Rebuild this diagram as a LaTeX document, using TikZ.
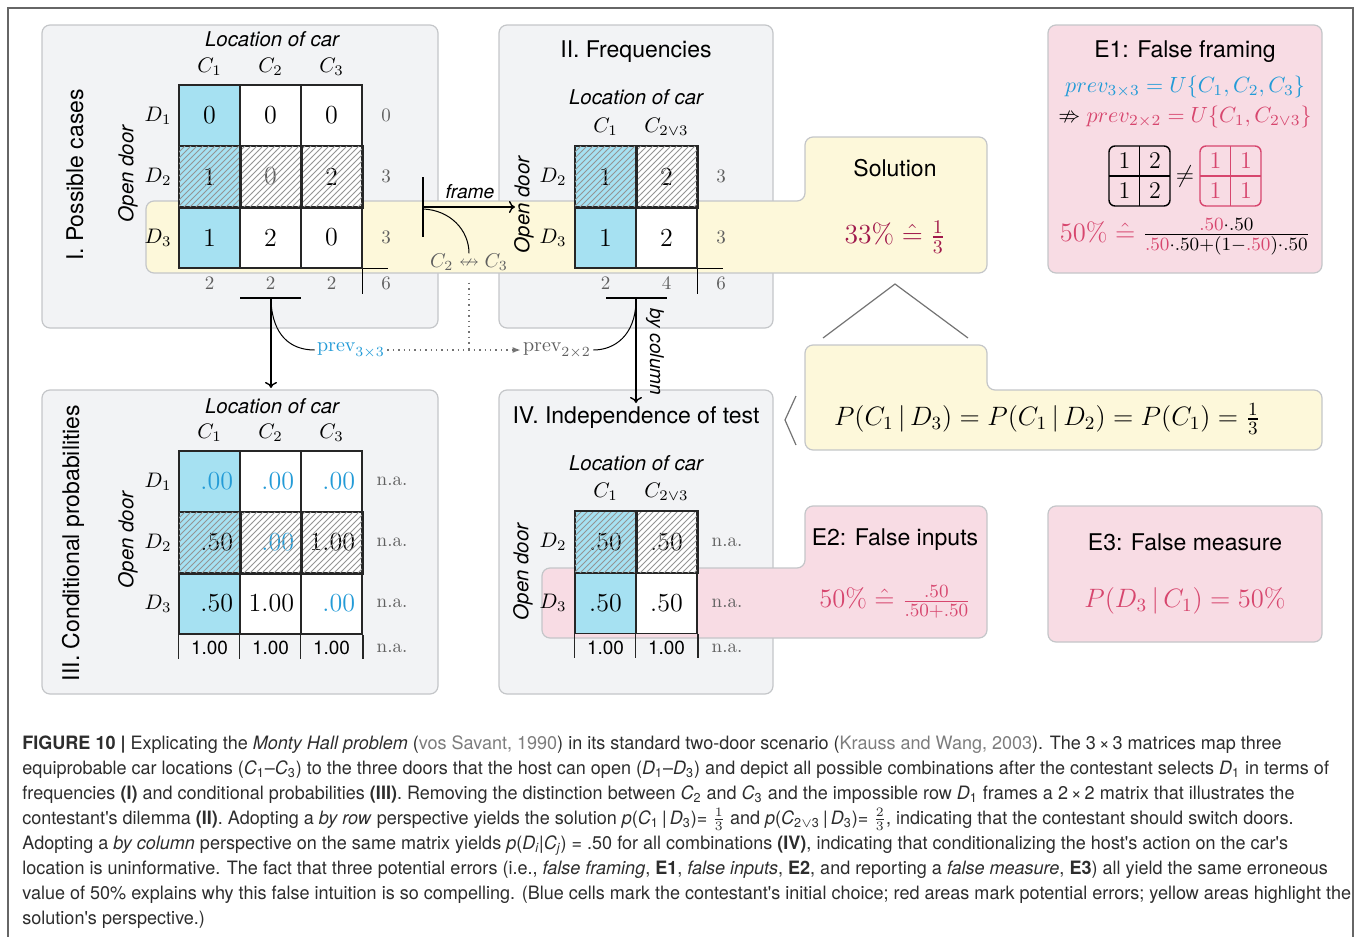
\RequirePackage{fix-cm}
\documentclass[tikz,border=0pt]{standalone}
\usepackage{amsmath,amssymb}
\usepackage{fontspec}
\newfontfamily\hv{TeX Gyre Heros}
\newfontfamily\capfont[FakeStretch=0.98]{TeX Gyre Heros}
\usetikzlibrary{patterns,arrows.meta}

\definecolor{panelgray}{RGB}{242,243,245}
\definecolor{edgegray}{RGB}{196,198,201}
\definecolor{cellblue}{RGB}{166,225,242}
\definecolor{solyellow}{RGB}{253,248,218}
\definecolor{errpink}{RGB}{248,220,228}
\definecolor{txtblue}{RGB}{35,155,215}
\definecolor{txtred}{RGB}{160,25,75}
\definecolor{txtpink}{RGB}{215,70,110}
\definecolor{sumgray}{RGB}{95,95,95}
\definecolor{capgray}{RGB}{45,45,45}
\definecolor{refgray}{RGB}{125,125,125}

\newcommand\fsz[1]{\fontsize{#1}{#1}\selectfont}
\newcommand\bl[1]{\textcolor{txtblue}{#1}}
\newcommand\pk[1]{\textcolor{txtpink}{#1}}
\newcommand\gr[1]{\textcolor{sumgray}{#1}}
\newcommand\hateq{\mathrel{\hat{=}}}

\tikzset{
  panel/.style={draw=edgegray, fill=panelgray, line width=0.6pt, rounded corners=4pt},
  solbox/.style={draw=edgegray, fill=solyellow, line width=0.6pt, rounded corners=4pt},
  errbox/.style={draw=edgegray, fill=errpink, line width=0.6pt, rounded corners=4pt},
  cell/.style={draw=black!85, line width=0.75pt, minimum size=30.5pt, inner sep=0pt, font=\fsz{13}},
  rcell/.style={cell, text width=23.5pt, align=right, inner xsep=3.5pt},
  hatch/.style={pattern=north east lines, pattern color=black!42},
  grid/.style={draw=black!85, line width=0.75pt},
  lbl/.style={inner sep=0pt, font=\fsz{10.5}},
  sumlbl/.style={inner sep=0pt, text=sumgray, font=\fsz{9.5}},
  axis/.style={inner sep=0pt, font=\hv\itshape\fsz{10.2}},
  ttl/.style={inner sep=0pt, font=\hv\fsz{11.5}},
  tot/.style={inner sep=0pt, font=\hv\fsz{9.5}},
  eq/.style={inner sep=0pt, font=\fsz{13.3}},
  mini/.style={inner sep=0pt, font=\fsz{12}},
  link/.style={line width=0.7pt},
}

\begin{document}
\begin{tikzpicture}[x=0.5pt,y=-0.5pt,>={To[length=3pt,width=6pt]}]
\useasboundingbox (0,0) rectangle (1357,937);
\draw[black!60, line width=0.6pt] (8,937) -- (8,8) -- (1353,8) -- (1353,937);

\draw[panel] (42,25) rectangle (438,328);
\draw[panel] (499,25) rectangle (773,328);
\draw[panel] (42,390) rectangle (438,694);
\draw[panel] (499,390) rectangle (773,694);
\draw[errbox] (1048,25) rectangle (1322,273);
\draw[errbox] (1048,506) rectangle (1322,642);

\draw[solbox] (500,273) -- (146,273) -- (146,201) -- (805,201) -- (805,137) -- (987,137) -- (987,273) -- cycle;
\draw[solbox] (1000,450) -- (805,450) -- (805,345) -- (987,345) -- (987,390) -- (1322,390) -- (1322,450) -- cycle;
\draw[errbox] (700,638) -- (542,638) -- (542,568) -- (805,568) -- (805,506) -- (987,506) -- (987,638) -- cycle;

\draw[black!55, line width=0.6pt] (823,338) -- (895,284) -- (968,338);
\draw[black!55, line width=0.6pt] (796,396) -- (785,420) -- (796,445);

% I. possible cases
\node[ttl, rotate=90] (tI) at (75,175) {I. Possible cases};
\node[axis] (locI) at (272,39) {Location of car};
\node[axis, rotate=90] (odI) at (128,174) {Open door};
\foreach \c/\r/\v/\f in {1/1/0/cellblue, 2/1/0/white, 3/1/0/white, 1/2/1/cellblue, 2/2/{\gr{0}}/white, 3/2/2/white, 1/3/1/cellblue, 2/3/2/white, 3/3/0/white}
  \node[cell, fill=\f] (I-\r\c) at (148.5+61*\c, 54.5+61*\r) {\v};
\fill[hatch] (I-21.south west) rectangle (I-23.north east);
\foreach \c in {1,2,3} \draw[grid] (I-2\c.north west) rectangle (I-2\c.south east);
\foreach \i in {1,2,3} {
  \node[lbl] (I-C\i) at (148.5+61*\i, 67) {$C_\i$};
  \node[lbl] (I-D\i) at (158, 54.5+61*\i) {$D_\i$};
}
\foreach \i/\v in {1/0,2/3,3/3} \node[sumlbl] (I-R\i) at (386, 54.5+61*\i) {\v};
\foreach \i in {1,2,3} \node[sumlbl] (I-S\i) at (148.5+61*\i, 283) {2};
\node[sumlbl] (I-T) at (386,283) {6};
\draw[line width=0.5pt] (I-33.south east) -- ++(25,0) (I-33.south east) -- ++(0,25);

% II. frequencies
\node[ttl] (tII) at (636,52) {II. Frequencies};
\node[axis] (locII) at (636,97) {Location of car};
\node[axis, rotate=90] (odII) at (524,205) {Open door};
\foreach \c/\r/\v/\f in {1/1/1/cellblue, 2/1/2/white, 1/2/1/cellblue, 2/2/2/white}
  \node[cell, fill=\f] (II-\r\c) at (544.5+61*\c, 115.5+61*\r) {\v};
\fill[hatch] (II-11.south west) rectangle (II-12.north east);
\foreach \c in {1,2} \draw[grid] (II-1\c.north west) rectangle (II-1\c.south east);
\node[lbl] (II-C1) at (605.5,127) {$C_1$};
\node[lbl] (II-C2) at (666.5,127) {$C_{2\vee3}$};
\node[lbl] (II-D2) at (553,176.5) {$D_2$};
\node[lbl] (II-D3) at (553,237.5) {$D_3$};
\node[sumlbl] (II-R1) at (721,176.5) {3};
\node[sumlbl] (II-R2) at (721,237.5) {3};
\node[sumlbl] (II-S1) at (605.5,283) {2};
\node[sumlbl] (II-S2) at (666.5,283) {4};
\node[sumlbl] (II-T) at (721,283) {6};
\draw[line width=0.5pt] (II-22.south east) -- ++(25,0) (II-22.south east) -- ++(0,25);

% III. conditional probabilities
\node[ttl, rotate=90] (tIII) at (73,543) {III. Conditional probabilities};
\node[axis] (locIII) at (272,406) {Location of car};
\node[axis, rotate=90] (odIII) at (128,540) {Open door};
\foreach \c/\r/\v/\f in {1/1/{\bl{.00}}/cellblue, 2/1/{\bl{.00}}/white, 3/1/{\bl{.00}}/white, 1/2/{.50}/cellblue, 2/2/{\bl{.00}}/white, 3/2/{1.00}/white, 1/3/{.50}/cellblue, 2/3/{1.00}/white, 3/3/{\bl{.00}}/white}
  \node[rcell, fill=\f] (III-\r\c) at (148.5+61*\c, 420.5+61*\r) {\v};
\fill[hatch] (III-21.south west) rectangle (III-23.north east);
\foreach \c in {1,2,3} \draw[grid] (III-2\c.north west) rectangle (III-2\c.south east);
\foreach \i in {1,2,3} {
  \node[lbl] (III-C\i) at (148.5+61*\i, 433) {$C_\i$};
  \node[lbl] (III-D\i) at (158, 420.5+61*\i) {$D_\i$};
  \node[tot] (III-S\i) at (148.5+61*\i, 648) {1.00};
  \node[sumlbl] (III-R\i) at (392, 420.5+61*\i) {n.a.};
  \draw[grid] (III-3\i.south west) -- ++(0,24);
}
\draw[grid] (III-33.south east) -- ++(0,24);
\node[sumlbl] (III-T) at (392,648) {n.a.};

% IV. independence of test
\node[ttl] (tIV) at (636,418) {IV. Independence of test};
\node[axis] (locIV) at (636,463) {Location of car};
\node[axis, rotate=90] (odIV) at (523,572) {Open door};
\foreach \c/\r/\f in {1/1/cellblue, 2/1/white, 1/2/cellblue, 2/2/white}
  \node[cell, fill=\f] (IV-\r\c) at (544.5+61*\c, 481+61*\r) {.50};
\fill[hatch] (IV-11.south west) rectangle (IV-12.north east);
\foreach \c in {1,2} \draw[grid] (IV-1\c.north west) rectangle (IV-1\c.south east);
\node[lbl] (IV-C1) at (605.5,492) {$C_1$};
\node[lbl] (IV-C2) at (666.5,492) {$C_{2\vee3}$};
\node[lbl] (IV-D2) at (553,542) {$D_2$};
\node[lbl] (IV-D3) at (553,603) {$D_3$};
\foreach \i in {1,2} {
  \node[tot] (IV-S\i) at (544.5+61*\i, 648) {1.00};
  \draw[grid] (IV-2\i.south west) -- ++(0,24);
}
\draw[grid] (IV-22.south east) -- ++(0,24);
\foreach \y in {542,603,648} \node[sumlbl] (IV-R\y) at (727,\y) {n.a.};

% frame and columns
\coordinate (fr) at (423,207);
\coordinate (fr-end) at (515,207);
\draw[link] (423,177) -- (423,237);
\draw[link,->] (fr) -- (fr-end);
\node[inner sep=0pt, font=\hv\itshape\fsz{9.6}] (frm) at (470,192) {frame};
\node[inner sep=0pt, text=sumgray, font=\fsz{10}] (sw) at (469,262) {$C_2 \nleftrightarrow C_3$};
\draw[line width=0.5pt] (423,209) .. controls (450,210) and (469,230) .. (sw.north);

\coordinate (I-br) at (271,298);
\coordinate (III-in) at (271,388);
\draw[link] (240,298) -- (301,298);
\draw[link,->] (I-br) -- (III-in);
\node[inner sep=1pt, font=\fsz{10}] (p33) at (351,350) {\bl{$\mathrm{prev}_{3\times3}$}};
\draw[line width=0.5pt] (271,302) .. controls (273,335) and (290,350) .. (p33.west);

\coordinate (II-br) at (636,298);
\coordinate (IV-in) at (636,403);
\draw[link] (606,298) -- (667,298);
\draw[link,->] (II-br) -- (IV-in);
\node[inner sep=1pt, text=sumgray, font=\fsz{10}] (p22) at (557,350) {$\mathrm{prev}_{2\times2}$};
\draw[line width=0.5pt] (636,302) .. controls (635,335) and (615,350) .. (p22.east);
\node[inner sep=0pt, rotate=-90, font=\hv\itshape\fsz{9.5}] (byc) at (655,352) {by column};

\draw[dotted, black!55, line width=0.7pt, -{Latex[length=4pt,width=3pt]}] (p33.east) -- (p22.west);
\draw[dotted, black!55, line width=0.7pt] ([yshift=-6pt]sw.south) -- (sw.south |- p33.east);

% solution
\node[ttl] (sol) at (895,168) {Solution};
\node[eq, text=txtred, font=\fsz{13.8}] (sol-eq) at (895,237) {$33\% \hateq \frac{1}{3}$};
\node[eq] (ind-eq) at (1047,419) {$P(C_1\,|\,D_3) = P(C_1\,|\,D_2) = P(C_1) = \frac{1}{3}$};

% errors
\node[ttl] (e1) at (1185,52) {E1: False framing};
\node[inner sep=0pt, font=\fsz{11}] (e1-a) at (1185,87) {\bl{$prev_{3\times3} = U\{C_1,C_2,C_3\}$}};
\node[inner sep=0pt, font=\fsz{11}] (e1-b) at (1185,117) {$\nRightarrow \textcolor{txtpink}{prev_{2\times2} = U\{C_1,C_{2\vee3}\}}$};
\draw[line width=0.7pt, rounded corners=3pt] (1109,146) rectangle (1170,206);
\draw[line width=0.7pt] (1139.5,146) -- (1139.5,206) (1109,176) -- (1170,176);
\draw[txtpink, line width=0.7pt, rounded corners=3pt] (1200,146) rectangle (1261,206);
\draw[txtpink, line width=0.7pt] (1230.5,146) -- (1230.5,206) (1200,176) -- (1261,176);
\foreach \c/\r/\v in {1/1/1, 2/1/2, 1/2/1, 2/2/2} {
  \node[mini] (m-\r\c) at (1094+30.5*\c, 131+30*\r) {\v};
  \node[mini, text=txtpink] (n-\r\c) at (1185+30.5*\c, 131+30*\r) {1};
}
\node[mini] (neq) at (1185,176) {$\neq$};
\node[eq] (e1-eq) at (1185,237) {$\textcolor{txtpink}{50\%}\mathrel{\textcolor{txtpink}{\hat{=}}}\frac{\pk{.50}\cdot.50}{\pk{.50}\cdot.50+(1-\pk{.50})\cdot.50}$};

\node[ttl] (e2) at (895,540) {E2: False inputs};
\node[eq, text=txtpink] (e2-eq) at (895,602) {$50\% \hateq \frac{.50}{.50+.50}$};
\node[ttl] (e3) at (1185,542) {E3: False measure};
\node[eq, text=txtpink] (e3-eq) at (1185,601) {$P(D_3\,|\,C_1) = 50\%$};

% caption
\node[anchor=north west, inner sep=0pt, align=left, text=capgray, font=\capfont\fontsize{9.2}{12.55}\selectfont] (cap) at (22,735) {%
\textbf{FIGURE 10 |} Explicating the \textit{Monty Hall problem} (\textcolor{refgray}{vos Savant, 1990}) in its standard two-door scenario (\textcolor{refgray}{Krauss and Wang, 2003}). The 3\,×\,3 matrices map three\\
equiprobable car locations (\textit{C}\textsubscript{1}–\textit{C}\textsubscript{3}) to the three doors that the host can open (\textit{D}\textsubscript{1}–\textit{D}\textsubscript{3}) and depict all possible combinations after the contestant selects \textit{D}\textsubscript{1} in terms of\\
frequencies \textbf{(I)} and conditional probabilities \textbf{(III)}. Removing the distinction between \textit{C}\textsubscript{2} and \textit{C}\textsubscript{3} and the impossible row \textit{D}\textsubscript{1} frames a 2\,×\,2 matrix that illustrates the\\
contestant's dilemma \textbf{(II)}. Adopting a \textit{by row} perspective yields the solution \textit{p}(\textit{C}\textsubscript{1}\,|\,\textit{D}\textsubscript{3})= $\frac{1}{3}$ and \textit{p}(\textit{C}\textsubscript{2$\vee$3}\,|\,\textit{D}\textsubscript{3})= $\frac{2}{3}$, indicating that the contestant should switch doors.\\
Adopting a \textit{by column} perspective on the same matrix yields \textit{p}(\textit{D\textsubscript{i}}|\textit{C\textsubscript{j}}) = .50 for all combinations \textbf{(IV)}, indicating that conditionalizing the host's action on the car's\\
location is uninformative. The fact that three potential errors (i.e., \textit{false framing}, \textbf{E1}, \textit{false inputs}, \textbf{E2}, and reporting a \textit{false measure}, \textbf{E3}) all yield the same erroneous\\
value of 50\% explains why this false intuition is so compelling. (Blue cells mark the contestant's initial choice; red areas mark potential errors; yellow areas highlight the\\
solution's perspective.)};
\end{tikzpicture}
\end{document}
